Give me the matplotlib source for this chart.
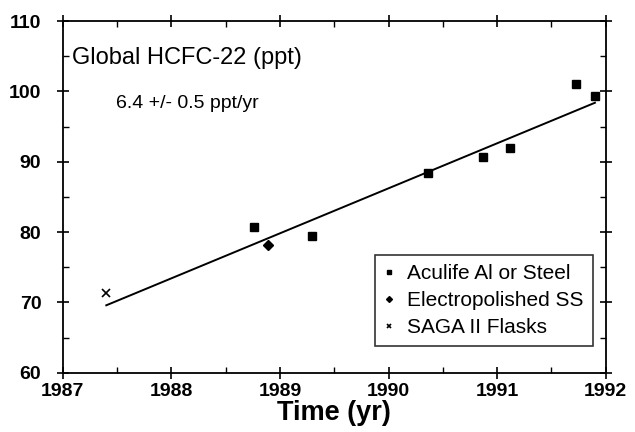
import matplotlib.pyplot as plt
import numpy as np

plt.rcParams['font.family'] = ['Liberation Sans', 'DejaVu Sans']

# Aculife Al or Steel canisters
aculife_t = [1988.76, 1989.29, 1990.36, 1990.87, 1991.12, 1991.73, 1991.90]
aculife_ppt = [80.8, 79.5, 88.4, 90.7, 92.0, 101.0, 99.4]
# Electropolished SS
electro_t = [1988.89]
electro_ppt = [78.2]
# SAGA II flasks
saga_t = [1987.40]
saga_ppt = [71.4]

# linear trend 6.4 ppt/yr
fit_t = [1987.40, 1991.90]
fit_slope = 6.4
fit_start = 69.6

fig = plt.figure(figsize=(6.35, 4.32), dpi=100)
ax = fig.add_axes([0.099, 0.137, 0.855, 0.814])

fit_y = [fit_start + fit_slope * (t - fit_t[0]) for t in fit_t]
ax.plot(fit_t, fit_y, color='black', lw=1.4)

ax.plot(aculife_t, aculife_ppt, 's', color='black', ms=6, label='Aculife Al or Steel')
ax.plot(electro_t, electro_ppt, 'D', color='black', ms=5, label='Electropolished SS')
ax.plot(saga_t, saga_ppt, 'x', color='black', ms=6, mew=1.2, label='SAGA II Flasks')

ax.set_xlim(1987, 1992)
ax.set_ylim(60, 110)
ax.set_xticks(np.arange(1987, 1993, 1))
ax.set_xticks(np.arange(1987.5, 1992, 1), minor=True)
ax.set_yticks(np.arange(60, 111, 10))
ax.set_yticks(np.arange(65, 110, 10), minor=True)
ax.tick_params(which='major', direction='inout', length=9, width=1.2,
               top=True, right=True, labelsize=14)
ax.tick_params(which='minor', direction='in', length=4, width=1,
               top=True, right=True)
for lab in ax.get_xticklabels() + ax.get_yticklabels():
    lab.set_fontweight('bold')
ax.tick_params(axis='x', pad=3)
ax.tick_params(axis='y', pad=11)
for s in ax.spines.values():
    s.set_linewidth(1.3)

ax.set_xlabel('Time (yr)', fontsize=19.5, fontweight='bold', labelpad=0)

ax.text(0.017, 0.895, 'Global HCFC-22 (ppt)', transform=ax.transAxes, fontsize=17,
        va='center', ha='left')
ax.text(0.098, 0.765, '6.4 +/- 0.5 ppt/yr', transform=ax.transAxes, fontsize=14,
        va='center', ha='left')

leg = ax.legend(loc='lower right', bbox_to_anchor=(0.976, 0.075), fontsize=15,
                frameon=True, fancybox=False, edgecolor='black', markerscale=0.6,
                handlelength=0.5, handletextpad=0.6, labelspacing=0.38,
                borderpad=0.45, borderaxespad=0)
leg.get_frame().set_linewidth(1.2)

fig.savefig('out.png', dpi=100)
